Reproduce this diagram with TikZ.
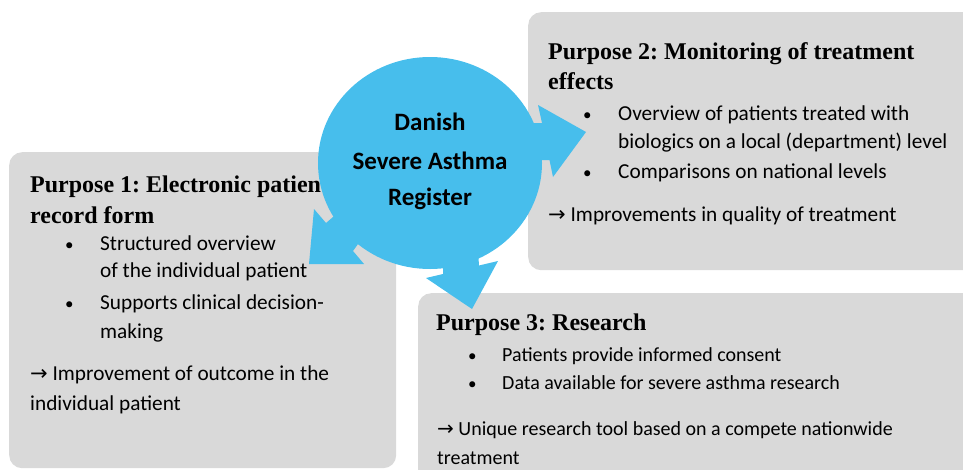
\documentclass[tikz,border=0pt]{standalone}
\usepackage{fontspec}
\setmainfont{Carlito}
\newfontfamily\titlefam{Liberation Serif}
\newfontfamily\arrowfam{DejaVu Sans}
\usetikzlibrary{shapes.geometric}
\definecolor{regblue}{RGB}{71,190,236}
\definecolor{boxgrey}{RGB}{217,217,217}
\frenchspacing
\tikzset{
 panel/.style={fill=boxgrey, rounded corners=13pt, anchor=north west, inner sep=0pt, draw=none},
 ttl/.style={font=\titlefam\bfseries\fontsize{24}{30}\selectfont, anchor=base west, inner sep=0pt},
 txt/.style={font=\fontsize{21.3}{28}\selectfont, anchor=base west, inner sep=0pt},
 stxt/.style={font=\fontsize{20}{28}\selectfont, anchor=base west, inner sep=0pt},
 blt/.style={font=\fontsize{17}{28}\selectfont, anchor=base west, inner sep=0pt},
 ctr/.style={font=\bfseries\fontsize{25}{37}\selectfont, anchor=base, inner sep=0pt},
 arr/.style={fill=regblue, draw=none},
}
\newcommand{\myra}{{\arrowfam\fontsize{21}{28}\selectfont →}}
\newcommand{\myrs}{{\arrowfam\fontsize{20}{28}\selectfont →}}
\begin{document}
\begin{tikzpicture}[x=1pt,y=-1pt]
\useasboundingbox (0,0) rectangle (963,469);
\clip (0,0) rectangle (963,469);
% panels
\node[panel, minimum width=387pt, minimum height=316pt] (box1) at (9,152) {};
\node[panel, minimum width=470pt, minimum height=258pt] (box2) at (528,12) {};
\node[panel, minimum width=580pt, minimum height=220pt] (box3) at (418,293) {};
% box 1 text
\node[ttl] (t1a) at (30,192.7) {Purpose 1: Electronic patient};
\node[ttl] (t1b) at (30,223.3) {record form};
\node[blt] (b1a) at (65,250) {•};
\node[txt] (l1a) at (100,250) {Structured overview};
\node[txt] (l1b) at (100,277) {of the individual patient};
\node[blt] (b1b) at (65,309) {•};
\node[txt] (l1c) at (100,309) {Supports clinical decision-};
\node[txt] (l1d) at (100,338) {making};
\node[txt] (l1e) at (30,380.7) {\myra\ Improvement of outcome in the};
\node[txt] (l1f) at (30,410.7) {individual patient};
% box 2 text
\node[ttl] (t2a) at (548,59.3) {Purpose 2: Monitoring of treatment};
\node[ttl] (t2b) at (548,89.3) {effects};
\node[blt] (b2a) at (583,120) {•};
\node[txt] (l2a) at (618,120) {Overview of patients treated with};
\node[txt] (l2b) at (618,148.3) {biologics on a local (department) level};
\node[blt] (b2b) at (583,178.3) {•};
\node[txt] (l2c) at (618,178.3) {Comparisons on national levels};
\node[txt] (l2d) at (548,221.7) {\myra\ Improvements in quality of treatment};
% box 3 text
\node[ttl] (t3a) at (436,330) {Purpose 3: Research};
\node[blt] (b3a) at (468,361) {•};
\node[stxt] (l3a) at (502,361) {Patients provide informed consent};
\node[blt] (b3b) at (468,389.3) {•};
\node[stxt] (l3b) at (502,389.3) {Data available for severe asthma research};
\node[stxt] (l3c) at (437,435) {\myrs\ Unique research tool based on a compete nationwide};
\node[stxt] (l3d) at (437,464.3) {treatment};
% central register with circular arrows
\node[ellipse, fill=regblue, draw=none, minimum width=224pt, minimum height=212pt, inner sep=0pt] (reg) at (430,163) {};
\fill[arr] (525,123) -- (542,123) -- (538,105) -- (586,132) -- (553,177) -- (549.5,160) -- (530,160) -- cycle;
\fill[arr] (340,211) -- (333,217) -- (326,223) -- (314,209) -- (309,264) -- (364,264) -- (353,251) -- (358,244) -- (365,237) -- cycle;
\fill[arr] (443,255) -- (443,274) -- (426,278) -- (472,309) -- (498,261) -- (479,265.5) -- (478,250) -- cycle;
\node[ctr] (c1) at (430,130) {Danish};
\node[ctr] (c2) at (430,169) {Severe Asthma};
\node[ctr] (c3) at (430,205) {Register};
\end{tikzpicture}
\end{document}
